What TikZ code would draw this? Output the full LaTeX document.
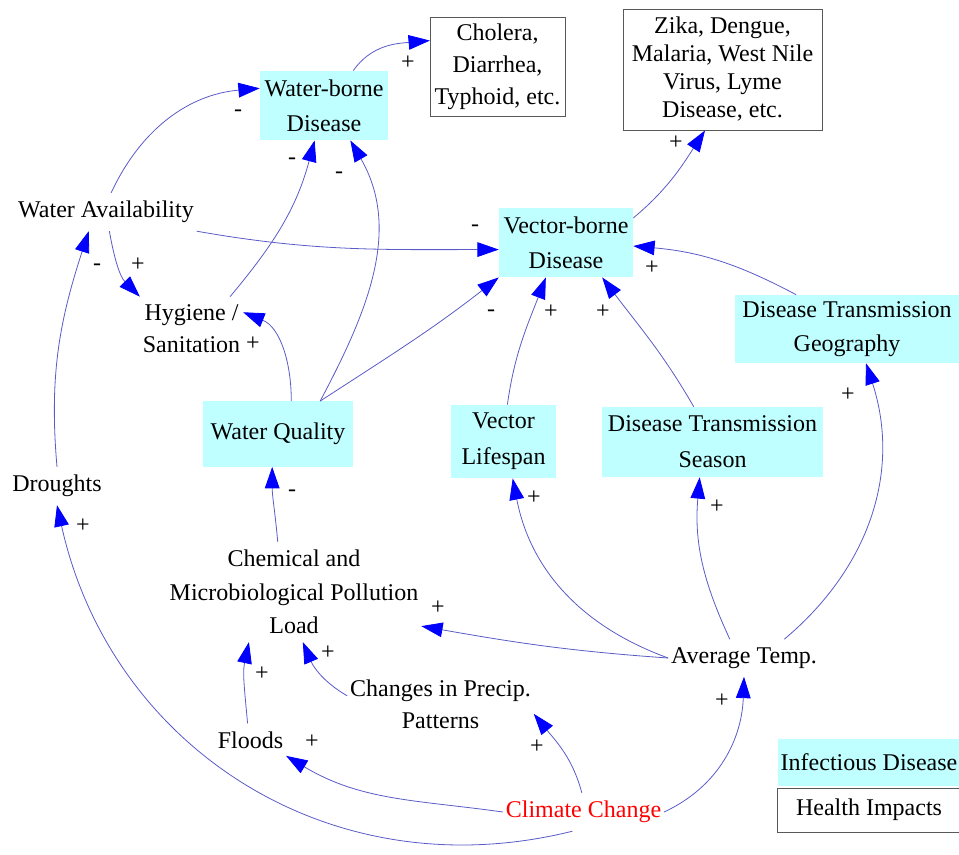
\documentclass[tikz,border=0pt]{standalone}
\usepackage{fontspec}
\setmainfont{Liberation Serif}
\usetikzlibrary{arrows.meta}

\definecolor{boxcyan}{RGB}{191,255,255}
\definecolor{linkblue}{RGB}{90,90,200}

\tikzset{
	var/.style={align=center, inner xsep=2pt, inner ysep=6pt},
	infbox/.style={var, fill=boxcyan, inner sep=0pt},
	hibox/.style={var, draw=gray!70!black, fill=white, inner sep=0pt},
	link/.style={draw=linkblue, line width=0.6pt, -{Triangle[length=16pt,width=11pt,color=blue]}},
	pol/.style={inner sep=0pt}
}

\begin{document}
\begin{tikzpicture}[x=0.75pt, y=0.75pt, font=\fontsize{18}{25}\selectfont]
	\useasboundingbox (0,0) rectangle (959,-854);
	\clip (0,0) rectangle (959,-854);

	% infectious diseases
	\node[infbox, minimum width=96pt, minimum height=52pt, font=\fontsize{18}{26}\selectfont] (wb) at (324,-105.5) {Water-borne\\Disease};
	\node[infbox, minimum width=100.5pt, minimum height=52pt, font=\fontsize{18}{26}\selectfont] (vb) at (566,-242.5) {Vector-borne\\Disease};
	\node[infbox, minimum width=168pt, minimum height=51pt, font=\fontsize{18}{26}\selectfont] (dtg) at (847,-329) {Disease Transmission\\Geography};
	\node[infbox, minimum width=112.5pt, minimum height=49pt] (wq) at (278,-434) {Water Quality};
	\node[infbox, minimum width=79pt, minimum height=55pt, font=\fontsize{18}{27}\selectfont] (vl) at (503.5,-441.5) {Vector\\Lifespan};
	\node[infbox, minimum width=166pt, minimum height=52.5pt, font=\fontsize{18}{27}\selectfont] (dts) at (712.5,-442) {Disease Transmission\\Season};

	% health impacts
	\node[hibox, minimum width=101pt, minimum height=74pt, font=\fontsize{18}{24}\selectfont] (chol) at (497.5,-66.5) {Cholera,\\Diarrhea,\\Typhoid, etc.};
	\node[hibox, minimum width=149pt, minimum height=91pt, font=\fontsize{18}{21}\selectfont] (zika) at (722.5,-69.5) {Zika, Dengue,\\Malaria, West Nile\\Virus, Lyme\\Disease, etc.};

	% other variables
	\node[var] (wa) at (106,-212) {Water Availability};
	\node[var, font=\fontsize{18}{24}\selectfont] (hyg) at (191.5,-329) {Hygiene /\\Sanitation};
	\node[var] (dro) at (57,-486) {Droughts};
	\node[var] (chem) at (294,-592) {Chemical and\\Microbiological Pollution\\Load};
	\node[var, font=\fontsize{18}{24}\selectfont] (prec) at (440.5,-704) {Changes in Precip.\\Patterns};
	\node[var] (fl) at (250.5,-740) {Floods};
	\node[var] (avg) at (744,-658) {Average Temp.};
	\node[var, text=red] (cc) at (583.5,-812) {Climate Change};

	% legend
	\node[infbox, minimum width=137pt, minimum height=35pt] (leg1) at (869,-762.5) {Infectious Disease};
	\node[hibox, minimum width=137pt, minimum height=33pt] (leg2) at (869,-810) {Health Impacts};

	% links
	\draw[link] (wb.50) to[out=55,in=185] (chol.159);
	\draw[link] (vb.20) to[out=40,in=237] (zika.254);
	\draw[link] (wa.75) to[out=65,in=185] (wb.165);
	\draw[link] (wa.south east) to[out=-10,in=180] (vb.186);
	\draw[link] (wa.-80) to[out=-80,in=135] (hyg.north west);
	\draw[link] (hyg.40) to[out=50,in=255] (wb.255);
	\draw[link] (wq.38) to[out=62,in=300] (wb.-53);
	\draw[link] (wq.68) to[out=90,in=-22] (hyg.18);
	\draw[link] (wq.38) to[out=33,in=218] (vb.south west);
	\draw[link] (vl.84) to[out=82,in=249] (vb.240);
	\draw[link] (dts.118) to[out=120,in=307] (vb.316);
	\draw[link] (dtg.146) to[out=152,in=-5] (vb.-3);
	\draw[link] (dro.north) to[out=95,in=252] (wa.228);
	\draw[link] (chem.108) to[out=95,in=270] (wq.260);
	\draw[link] (avg.west) to[out=176,in=350] (chem.-15);
	\draw[link] (avg.west) to[out=160,in=281] (vl.284);
	\draw[link] (avg.127) to[out=115,in=265] (dts.250);
	\draw[link] (avg.25) to[out=40,in=288] (dtg.299);
	\draw[link] (fl.100) to[out=95,in=258] (chem.228);
	\draw[link] (prec.175) to[out=150,in=293] (chem.280);
	\draw[link] (cc.west) to[out=172,in=-31] (fl.-24);
	\draw[link] (cc.95) to[out=105,in=309] (prec.-6);
	\draw[link] (cc.east) to[out=25,in=268] (avg.south);
	\draw[link] (cc.-120) .. controls (328,-892) and (110,-745) .. (dro.south);

	% polarities
	\foreach \x/\y/\s [count=\i] in {408/63/+, 676/143/+, 238/113/-, 475/228/-, 138/265/+,
		292/161/-, 339/175/-, 253/344/+, 491/313/-, 551/312/+, 603/312/+, 652/268/+,
		97/267/-, 292/493/-, 438/608/+, 534/498/+, 717/507/+, 848/395/+, 262/674/+,
		328/653/+, 312/742/+, 537/747/+, 722/701/+, 83/526/+}
		\node[pol] (p\i) at (\x,-\y) {\s};
\end{tikzpicture}
\end{document}
